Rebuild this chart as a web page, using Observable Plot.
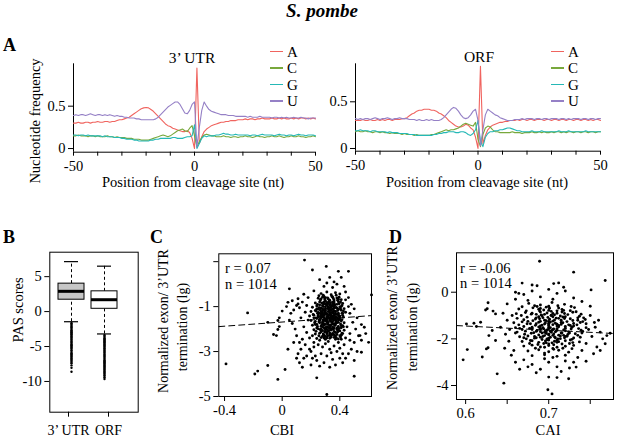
<!DOCTYPE html>
<html><head><meta charset="utf-8">
<script src="https://cdn.jsdelivr.net/npm/d3@7"></script>
<script src="https://cdn.jsdelivr.net/npm/@observablehq/plot@0.6"></script>
<style>
@font-face{font-family:"FigSerif";src:local("Liberation Serif"),local("LiberationSerif"),local("LiberationSerif-Regular"),local("DejaVu Serif"),local("DejaVuSerif");font-weight:normal;font-style:normal}
@font-face{font-family:"FigSerif";src:local("Liberation Serif Bold"),local("LiberationSerif-Bold"),local("DejaVu Serif Bold"),local("DejaVuSerif-Bold");font-weight:bold;font-style:normal}
@font-face{font-family:"FigSerif";src:local("Liberation Serif Bold Italic"),local("LiberationSerif-BoldItalic"),local("DejaVu Serif Bold Italic"),local("DejaVuSerif-BoldItalic");font-weight:bold;font-style:italic}
body{margin:0;background:#fff;}
#fig{position:relative;width:617px;height:437px;font-family:"Liberation Serif","FigSerif","Times New Roman",Times,"DejaVu Serif",serif;color:#000;overflow:hidden;background:#fff}
#fig svg{position:absolute}
.t{position:absolute;white-space:nowrap;line-height:1}
</style></head><body><div id="fig"></div>
<script>
// ---------- DATA ----------
const positions = d3.range(-50, 51);
const nucleotides = ["A", "C", "G", "U"];
const nucColors = ["#f0645f", "#78a83c", "#25b8b6", "#9580c6"];

const utrA = [0.30,0.30,0.31,0.30,0.30,0.31,0.31,0.30,0.31,0.31,
 0.32,0.31,0.31,0.32,0.32,0.31,0.32,0.32,0.33,0.34,
 0.34,0.35,0.36,0.37,0.39,0.41,0.43,0.45,0.47,0.48,
 0.485,0.48,0.46,0.44,0.41,0.38,0.35,0.32,0.29,0.27,
 0.26,0.24,0.23,0.22,0.21,0.20,0.20,0.21,0.19,0.12,
 0.00,
 0.95,0.06,0.14,0.20,0.23,0.25,0.27,0.28,0.29,0.30,
 0.31,0.31,0.32,0.32,0.33,0.33,0.33,0.34,0.34,0.34,
 0.35,0.34,0.35,0.35,0.34,0.35,0.35,0.36,0.35,0.35,
 0.35,0.36,0.35,0.35,0.36,0.35,0.36,0.35,0.35,0.36,
 0.35,0.36,0.35,0.36,0.36,0.35,0.36,0.35,0.36,0.35];
const utrC = [0.15,0.15,0.16,0.15,0.15,0.15,0.14,0.15,0.15,0.14,
 0.15,0.14,0.14,0.14,0.15,0.14,0.14,0.13,0.14,0.13,
 0.13,0.13,0.12,0.12,0.12,0.11,0.11,0.11,0.10,0.10,
 0.10,0.10,0.11,0.12,0.13,0.14,0.15,0.16,0.15,0.14,
 0.15,0.17,0.19,0.21,0.22,0.23,0.21,0.20,0.24,0.27,
 0.15,
 0.02,0.08,0.13,0.16,0.17,0.16,0.15,0.15,0.14,0.14,
 0.14,0.15,0.14,0.14,0.13,0.14,0.14,0.13,0.14,0.14,
 0.15,0.14,0.14,0.13,0.14,0.15,0.14,0.14,0.13,0.14,
 0.14,0.15,0.14,0.14,0.15,0.14,0.13,0.14,0.14,0.15,
 0.14,0.14,0.15,0.14,0.14,0.13,0.14,0.14,0.15,0.14];
const utrG = [0.16,0.16,0.15,0.16,0.16,0.15,0.16,0.15,0.15,0.15,
 0.15,0.15,0.14,0.15,0.14,0.14,0.14,0.13,0.13,0.13,
 0.12,0.12,0.11,0.11,0.11,0.10,0.10,0.09,0.09,0.09,
 0.09,0.09,0.10,0.10,0.11,0.11,0.12,0.12,0.12,0.12,
 0.12,0.13,0.13,0.12,0.12,0.12,0.13,0.14,0.14,0.15,
 0.28,
 0.00,0.06,0.12,0.15,0.14,0.15,0.15,0.15,0.16,0.16,
 0.17,0.18,0.17,0.17,0.16,0.16,0.17,0.16,0.16,0.16,
 0.16,0.16,0.15,0.16,0.16,0.15,0.16,0.17,0.16,0.16,
 0.16,0.16,0.15,0.16,0.17,0.16,0.16,0.15,0.16,0.16,
 0.15,0.16,0.17,0.16,0.16,0.15,0.16,0.16,0.16,0.15];
const utrU = [0.39,0.40,0.39,0.40,0.40,0.39,0.40,0.41,0.40,0.39,
 0.40,0.40,0.39,0.40,0.39,0.40,0.39,0.38,0.39,0.38,
 0.38,0.37,0.37,0.36,0.36,0.36,0.35,0.35,0.34,0.34,
 0.34,0.34,0.34,0.34,0.35,0.37,0.40,0.43,0.46,0.49,
 0.51,0.53,0.55,0.55,0.52,0.47,0.42,0.41,0.45,0.52,
 0.55,
 0.02,0.25,0.45,0.55,0.50,0.46,0.44,0.43,0.42,0.41,
 0.40,0.40,0.40,0.39,0.39,0.39,0.38,0.38,0.38,0.38,
 0.38,0.37,0.38,0.37,0.37,0.37,0.38,0.37,0.37,0.37,
 0.37,0.36,0.37,0.37,0.36,0.37,0.36,0.37,0.36,0.36,
 0.37,0.36,0.36,0.37,0.36,0.36,0.35,0.36,0.36,0.36];

const orfA = [0.30,0.30,0.30,0.31,0.30,0.30,0.31,0.30,0.30,0.31,
 0.30,0.31,0.30,0.31,0.31,0.30,0.31,0.31,0.31,0.32,
 0.32,0.33,0.35,0.37,0.38,0.40,0.41,0.41,0.42,0.42,
 0.42,0.41,0.41,0.40,0.38,0.37,0.35,0.33,0.30,0.28,
 0.26,0.24,0.23,0.23,0.24,0.26,0.25,0.22,0.20,0.12,
 0.00,
 0.88,0.05,0.14,0.20,0.23,0.25,0.26,0.27,0.28,0.28,
 0.29,0.29,0.30,0.30,0.30,0.31,0.30,0.31,0.31,0.30,
 0.31,0.31,0.30,0.31,0.31,0.31,0.30,0.31,0.31,0.30,
 0.31,0.31,0.30,0.31,0.31,0.30,0.31,0.31,0.30,0.31,
 0.31,0.30,0.31,0.31,0.30,0.31,0.30,0.31,0.31,0.30];
const orfC = [0.18,0.19,0.18,0.18,0.19,0.18,0.18,0.17,0.18,0.18,
 0.17,0.18,0.17,0.17,0.16,0.17,0.16,0.16,0.16,0.15,
 0.16,0.15,0.15,0.15,0.14,0.15,0.14,0.14,0.14,0.14,
 0.14,0.15,0.15,0.16,0.17,0.18,0.19,0.20,0.19,0.20,
 0.20,0.21,0.22,0.24,0.26,0.27,0.26,0.25,0.24,0.28,
 0.10,
 0.02,0.15,0.22,0.24,0.23,0.20,0.18,0.18,0.17,0.17,
 0.17,0.17,0.17,0.18,0.17,0.17,0.17,0.16,0.17,0.17,
 0.17,0.18,0.17,0.17,0.18,0.17,0.18,0.17,0.17,0.18,
 0.17,0.18,0.18,0.17,0.18,0.17,0.18,0.18,0.17,0.18,
 0.18,0.17,0.18,0.18,0.17,0.18,0.18,0.17,0.18,0.18];
const orfG = [0.19,0.19,0.20,0.19,0.19,0.19,0.18,0.19,0.19,0.18,
 0.18,0.18,0.18,0.17,0.18,0.17,0.17,0.17,0.16,0.16,
 0.16,0.16,0.15,0.15,0.15,0.14,0.14,0.14,0.14,0.14,
 0.14,0.14,0.15,0.15,0.16,0.16,0.17,0.17,0.18,0.18,
 0.18,0.17,0.17,0.18,0.18,0.17,0.15,0.14,0.16,0.20,
 0.30,
 0.08,0.02,0.12,0.16,0.18,0.18,0.19,0.19,0.20,0.20,
 0.21,0.22,0.22,0.21,0.20,0.19,0.19,0.18,0.18,0.18,
 0.18,0.19,0.18,0.18,0.18,0.19,0.18,0.18,0.18,0.18,
 0.18,0.18,0.19,0.18,0.18,0.18,0.19,0.18,0.18,0.18,
 0.18,0.18,0.18,0.19,0.18,0.18,0.18,0.18,0.18,0.18];
const orfU = [0.32,0.31,0.32,0.31,0.32,0.32,0.31,0.32,0.33,0.32,
 0.31,0.32,0.32,0.33,0.32,0.31,0.32,0.32,0.33,0.32,
 0.32,0.32,0.31,0.31,0.31,0.30,0.31,0.30,0.30,0.31,
 0.30,0.31,0.30,0.30,0.30,0.31,0.33,0.36,0.39,0.42,
 0.44,0.43,0.40,0.36,0.33,0.32,0.33,0.36,0.40,0.42,
 0.30,
 0.03,0.20,0.36,0.42,0.40,0.38,0.36,0.35,0.33,0.32,
 0.31,0.30,0.30,0.30,0.31,0.31,0.31,0.32,0.31,0.32,
 0.32,0.32,0.31,0.32,0.32,0.31,0.32,0.32,0.31,0.32,
 0.32,0.32,0.31,0.32,0.32,0.31,0.32,0.31,0.32,0.32,
 0.32,0.31,0.32,0.32,0.31,0.32,0.32,0.31,0.32,0.32];

const lineXTicks = [-50,-40,-30,-20,-10,0,10,20,30,40,50];
const lineXLabels = [-50, 0, 50];
const freqTicks = [0, 0.5];

// Panel B: PAS score boxplot summaries
const boxCats = ["3\u2019 UTR", "ORF"];
const boxQ1 = [1.7, 0.4];
const boxMedian = [2.9, 1.7];
const boxQ3 = [4.0, 2.9];
const whiskerLow = [-1.45, -3.2];
const whiskerHigh = [7.15, 6.5];
const boxFills = ["#c6c6c6", "#ffffff"];
const utrOutliers = [-1.62,-1.75,-1.9,-2.05,-2.2,-2.33,-2.5,-2.66,-2.8,-2.97,-3.1,-3.26,-3.42,-3.58,-3.7,-3.88,-4.02,-4.2,-4.35,-4.5,-4.68,-4.83,-5.0,-5.15,-5.3,-5.48,-5.62,-5.8,-5.95,-6.1,-6.28,-6.43,-6.6,-6.76,-6.9,-7.05,-7.22,-7.4,-7.7,-8.05,-8.6];
const orfOutliers = [-3.35,-3.5,-3.65,-3.8,-3.96,-4.1,-4.26,-4.4,-4.56,-4.7,-4.86,-5.0,-5.16,-5.3,-5.46,-5.6,-5.76,-5.9,-6.06,-6.2,-6.36,-6.5,-6.66,-6.8,-6.96,-7.1,-7.26,-7.4,-7.56,-7.7,-7.86,-8.0,-8.16,-8.3,-8.46,-8.6,-8.76,-8.9,-9.06,-9.2,-9.4,-9.65];
const pasTicks = [5, 0, -5, -10];

// Panel C: CBI vs normalized exon/3'UTR termination (lg)
const cPoints = [
 [0.155,1.07],[0.306,0.79],[0.39,0.57],[0.46,0.57],[0.21,0.63],[0.05,-0.21],[0.62,-0.48],[0.26,0.2],[0.33,0.3],[0.36,0.1],[0.41,0.3],[0.38,0.0],[0.29,-0.1],[0.31,0.05],[0.35,-0.15],[0.43,-0.1],[0.44,-0.35],[0.22,-0.3],[0.15,-0.45],[0.18,-0.6],[0.11,-0.65],
 [-0.24,-1.28],[-0.39,-3.55],[-0.19,-4.0],[-0.17,-3.87],[-0.10,-3.62],[-0.03,-4.24],[0.02,-3.8],[0.14,-3.7],[0.24,-4.17],[0.31,-4.91],[0.50,-4.1],[-0.06,-2.24],[-0.03,-2.02],[-0.10,-1.70],[0.03,-1.0],[0.06,-1.3],[0.08,-1.15],[0.1,-0.95],[0.12,-1.05],[0.05,-1.6],[0.07,-1.75],[0.09,-2.0],[0.1,-2.3],[0.12,-2.6],[0.13,-2.9],[0.11,-3.1],[0.15,-3.3],[0.14,-2.45],[0.16,-2.7],[0.17,-2.15],[0.15,-1.9],[0.13,-1.5],[0.16,-1.25],[0.17,-0.95],[0.14,-0.8],[0.18,-1.6],[0.19,-2.4],[0.12,-3.5],[0.17,-3.2],[0.2,-3.6],[0.19,-2.9],[0.21,-3.3],[0.22,-2.8],[0.08,-2.6],[0.04,-2.9],[0.1,-3.3],[0.0,-1.2],[-0.02,-1.5],[0.04,-0.81],[0.11,-0.88],[0.07,-0.74],[-0.03,-1.62],[-0.02,-1.89],[-0.04,-2.29],
 [0.46,-0.6],[0.48,-0.9],[0.47,-1.3],[0.5,-1.1],[0.52,-1.5],[0.49,-1.7],[0.51,-2.0],[0.47,-2.2],[0.53,-2.3],[0.55,-2.5],[0.5,-2.6],[0.48,-2.9],[0.46,-3.1],[0.52,-3.0],[0.55,-1.8],[0.58,-2.2],[0.44,-3.3],[0.42,-3.5],[0.47,-2.5],[0.45,-1.9],[0.46,-1.0],[0.44,-0.7],[0.54,-2.29],[0.57,-1.92],[0.6,-2.59],[0.55,-3.03],[0.50,-3.4],
 [0.22,-2.6],[0.25,-2.7],[0.28,-2.8],[0.3,-2.65],[0.33,-2.9],[0.36,-2.75],[0.38,-3.0],[0.4,-2.85],[0.42,-3.1],[0.27,-3.1],[0.31,-3.2],[0.35,-3.35],[0.24,-3.4],[0.29,-3.5],[0.37,-3.6],[0.33,-3.7],[0.26,-3.65],[0.4,-3.3],[0.43,-2.7],[0.2,-3.0],[0.23,-3.2],[0.34,-3.05],[0.39,-2.6],[0.41,-2.45],[0.26,-2.5],[0.32,-2.55],[0.37,-2.45],[0.29,-2.4],[0.21,-2.3],[0.44,-2.4],
 [0.27,-0.42],[0.31,-0.35],[0.34,-0.47],[0.37,-0.38],[0.40,-0.44],[0.29,-0.55],
 [0.25,-0.63],[0.28,-0.58],[0.32,-0.66],[0.35,-0.57],[0.38,-0.62],[0.41,-0.69],[0.30,-0.74],[0.36,-0.71],
 [0.23,-0.84],[0.26,-0.79],[0.29,-0.88],[0.31,-0.81],[0.33,-0.92],[0.36,-0.85],[0.39,-0.78],[0.42,-0.86],[0.28,-0.95],[0.34,-0.99],
 [0.21,-1.03],[0.24,-0.97],[0.27,-1.06],[0.30,-1.01],[0.32,-1.08],[0.34,-1.04],[0.36,-0.98],[0.38,-1.07],[0.40,-1.02],[0.43,-1.09],[0.29,-1.14],[0.35,-1.12],
 [0.20,-1.22],[0.23,-1.17],[0.25,-1.26],[0.28,-1.19],[0.30,-1.24],[0.31,-1.31],[0.33,-1.18],[0.35,-1.27],[0.37,-1.21],[0.39,-1.29],[0.41,-1.16],[0.44,-1.25],[0.27,-1.33],[0.34,-1.36],
 [0.19,-1.42],[0.22,-1.38],[0.25,-1.46],[0.27,-1.41],[0.29,-1.49],[0.31,-1.44],[0.32,-1.37],[0.34,-1.47],[0.36,-1.40],[0.38,-1.48],[0.40,-1.43],[0.42,-1.39],[0.30,-1.55],[0.35,-1.53],[0.26,-1.57],
 [0.20,-1.62],[0.23,-1.66],[0.26,-1.61],[0.28,-1.68],[0.30,-1.63],[0.32,-1.71],[0.33,-1.59],[0.35,-1.67],[0.37,-1.62],[0.39,-1.70],[0.41,-1.64],[0.43,-1.72],[0.29,-1.76],[0.36,-1.78],
 [0.21,-1.83],[0.24,-1.79],[0.27,-1.87],[0.29,-1.82],[0.31,-1.89],[0.33,-1.84],[0.35,-1.91],[0.37,-1.81],[0.39,-1.88],[0.42,-1.85],[0.30,-1.96],[0.34,-1.98],
 [0.22,-2.03],[0.25,-1.99],[0.28,-2.06],[0.30,-2.01],[0.32,-2.09],[0.34,-2.04],[0.36,-2.11],[0.38,-2.02],[0.40,-2.08],[0.43,-2.05],[0.31,-2.15],
 [0.23,-2.22],[0.26,-2.18],[0.29,-2.26],[0.31,-2.21],[0.33,-2.29],[0.35,-2.19],[0.38,-2.24],[0.41,-2.27],[0.30,-2.33],
 [0.24,-2.42],[0.27,-2.38],[0.30,-2.46],[0.33,-2.41],[0.36,-2.37],[0.39,-2.44],
 [0.28,-1.10],[0.30,-1.16],[0.32,-1.22],[0.34,-1.15],[0.36,-1.33],[0.33,-1.28],[0.31,-1.52],[0.29,-1.35],[0.27,-1.50],[0.35,-1.43],[0.37,-1.56],[0.33,-1.62],[0.31,-1.69],[0.28,-1.73],[0.34,-1.80],[0.36,-1.50],[0.32,-1.45],[0.30,-1.33],[0.38,-1.35],[0.26,-1.30],[0.33,-1.05],[0.31,-0.94],[0.35,-0.88],[0.29,-1.62],[0.37,-1.74],[0.32,-1.93],[0.28,-1.90],[0.34,-1.26],[0.36,-1.19],[0.30,-1.79],[0.38,-1.95],[0.35,-2.0],[0.27,-2.12],[0.33,-2.17],[0.37,-2.31],[0.39,-1.12],[0.40,-1.58],[0.25,-1.12],[0.24,-1.53],[0.41,-1.94],
 [0.255,-0.52],[0.285,-0.49],[0.315,-0.61],[0.345,-0.55],[0.375,-0.49],[0.395,-0.58],[0.265,-0.71],[0.295,-0.66],[0.325,-0.77],[0.355,-0.64],[0.385,-0.72],[0.405,-0.8],[0.245,-0.9],[0.275,-0.84],[0.305,-0.9],[0.335,-0.83],[0.365,-0.93],[0.395,-0.87],[0.415,-0.95],[0.255,-1.05],[0.285,-1.0],[0.315,-1.08],[0.345,-0.97],[0.375,-1.04],[0.405,-1.1],[0.425,-1.2],[0.235,-1.2],[0.265,-1.15],[0.295,-1.25],[0.325,-1.13],[0.355,-1.22],[0.385,-1.17],[0.415,-1.3],[0.215,-1.35],[0.245,-1.3],[0.275,-1.38],[0.305,-1.32],[0.335,-1.41],[0.365,-1.35],[0.395,-1.42],[0.425,-1.47],[0.235,-1.5],[0.265,-1.45],[0.295,-1.56],[0.325,-1.5],[0.355,-1.59],[0.385,-1.53],[0.415,-1.58],[0.225,-1.72],[0.255,-1.67],[0.285,-1.61],[0.315,-1.75],[0.345,-1.69],[0.375,-1.66],[0.405,-1.77],[0.245,-1.88],[0.275,-1.81],[0.305,-1.93],[0.335,-1.86],[0.365,-1.84],[0.395,-1.97],[0.425,-1.9],[0.235,-2.1],[0.265,-2.03],[0.295,-2.12],[0.325,-2.06],[0.355,-2.0],[0.385,-2.13],[0.415,-2.18],[0.255,-2.3],[0.285,-2.22],[0.315,-2.31],[0.345,-2.25],[0.375,-2.38],[0.405,-2.35],
 [0.27,-0.66],[0.30,-0.6],[0.33,-0.72],[0.36,-0.78],[0.39,-0.67],[0.26,-0.93],[0.29,-0.79],[0.32,-0.86],[0.35,-0.93],[0.38,-0.9],[0.41,-1.0],[0.24,-1.1],[0.27,-1.23],[0.30,-1.09],[0.33,-1.35],[0.36,-1.07],[0.39,-1.36],[0.42,-1.3],[0.22,-1.5],[0.25,-1.38],[0.28,-1.45],[0.31,-1.6],[0.34,-1.55],[0.37,-1.45],[0.40,-1.5],[0.23,-1.8],[0.26,-1.72],[0.29,-1.94],[0.32,-1.8],[0.35,-1.76],[0.38,-1.72],[0.41,-1.85],[0.24,-1.95],[0.27,-1.98],[0.30,-2.1],[0.33,-1.96],[0.36,-2.25],[0.39,-2.05],[0.42,-2.2],[0.28,-2.32],[0.31,-2.4],[0.34,-2.35],[0.37,-2.15],[0.40,-2.3],[0.35,-0.8],[0.32,-1.0],[0.29,-1.4],[0.34,-1.66],[0.31,-2.02],[0.37,-1.28],[0.26,-1.62],[0.39,-1.6],[0.33,-2.24],[0.28,-1.28],[0.36,-1.96],[0.30,-0.88]
];
const cFitX = [-0.44, 0.62];
const cFitY = [-1.89, -1.40];
const cbiTicks = [-0.4, 0, 0.4];
const cTermTicks = [1, -1, -3, -5];
const cTermLabels = [-1, -3, -5];

// Panel D: CAI vs normalized exon/3'UTR termination (lg)
const dPoints = [
 [0.689,1.33],[0.730,0.86],[0.768,0.50],[0.668,0.39],[0.680,0.31],[0.686,0.28],[0.706,0.37],[0.712,0.40],[0.718,0.21],[0.751,0.10],[0.660,0.0],[0.664,-0.05],[0.627,-0.45],[0.633,-0.81],[0.636,-0.93],[0.624,-0.76],[0.601,-1.36],[0.613,-1.47],[0.610,-1.33],[0.602,-2.46],[0.597,-2.9],[0.620,-2.78],[0.627,-2.38],[0.636,-2.07],[0.638,-3.5],[0.646,-3.9],[0.700,-3.64],[0.710,-3.66],[0.699,-4.18],[0.704,-4.36],[0.724,-3.71],[0.733,-3.21],[0.745,-2.96],[0.754,-2.64],[0.762,-2.5],[0.768,-2.21],[0.774,-1.76],[0.770,-1.86],[0.762,-1.71],[0.756,-1.5],[0.626,-0.71],[0.632,-1.64],[0.628,-1.86],[0.625,-2.43],[0.618,-1.29],
 [0.65,-0.5],[0.66,-0.3],[0.67,-0.1],[0.69,-0.2],[0.71,-0.05],[0.73,-0.25],[0.74,-0.4],[0.75,-0.6],[0.72,0.05],[0.70,0.12],[0.68,0.05],[0.675,-0.35],[0.705,-0.3],
 [0.645,-0.9],[0.65,-1.2],[0.642,-1.5],[0.648,-1.8],[0.652,-2.1],[0.647,-2.4],[0.655,-2.7],[0.66,-3.0],[0.665,-3.3],[0.658,-2.5],[0.653,-1.6],[0.656,-1.0],
 [0.75,-1.0],[0.755,-1.3],[0.748,-1.6],[0.752,-1.9],[0.745,-2.2],[0.74,-2.5],[0.735,-2.8],[0.73,-3.0],[0.76,-1.2],[0.765,-2.0],[0.742,-1.1],[0.758,-2.35],
 [0.67,-2.9],[0.68,-3.1],[0.69,-3.3],[0.70,-3.0],[0.71,-3.2],[0.72,-2.95],[0.715,-3.4],[0.685,-3.45],[0.675,-3.2],[0.725,-3.25],[0.695,-2.85],[0.705,-2.8],
 [0.676,-0.48],[0.690,-0.55],[0.704,-0.44],[0.719,-0.52],[0.686,-0.61],[0.711,-0.58],
 [0.664,-0.72],[0.681,-0.67],[0.694,-0.76],[0.701,-0.69],[0.716,-0.74],[0.731,-0.66],[0.689,-0.81],[0.726,-0.79],
 [0.661,-0.92],[0.672,-0.87],[0.685,-0.95],[0.698,-0.89],[0.707,-0.97],[0.719,-0.91],[0.729,-0.86],[0.739,-0.94],[0.692,-1.01],[0.703,-0.99],
 [0.662,-1.12],[0.674,-1.07],[0.684,-1.15],[0.693,-1.09],[0.701,-1.16],[0.709,-1.11],[0.717,-1.06],[0.726,-1.14],[0.735,-1.10],[0.744,-1.17],[0.697,-1.22],[0.705,-1.24],
 [0.658,-1.31],[0.668,-1.27],[0.678,-1.35],[0.688,-1.29],[0.695,-1.36],[0.702,-1.28],[0.708,-1.33],[0.715,-1.38],[0.722,-1.26],[0.730,-1.34],[0.738,-1.30],[0.692,-1.41],[0.700,-1.44],[0.712,-1.43],
 [0.660,-1.52],[0.670,-1.47],[0.680,-1.55],[0.688,-1.49],[0.694,-1.57],[0.700,-1.51],[0.706,-1.58],[0.712,-1.48],[0.720,-1.54],[0.728,-1.50],[0.736,-1.56],[0.745,-1.52],[0.698,-1.62],[0.704,-1.64],[0.690,-1.60],
 [0.662,-1.71],[0.672,-1.67],[0.682,-1.74],[0.690,-1.69],[0.697,-1.77],[0.703,-1.72],[0.709,-1.66],[0.716,-1.75],[0.724,-1.70],[0.732,-1.78],[0.741,-1.68],[0.700,-1.83],[0.695,-1.86],[0.712,-1.84],
 [0.665,-1.91],[0.675,-1.88],[0.685,-1.95],[0.693,-1.90],[0.700,-1.97],[0.707,-1.92],[0.714,-1.99],[0.722,-1.89],[0.730,-1.96],[0.738,-1.93],[0.698,-2.04],[0.710,-2.06],
 [0.668,-2.11],[0.678,-2.07],[0.688,-2.15],[0.696,-2.09],[0.704,-2.17],[0.712,-2.12],[0.720,-2.08],[0.729,-2.16],[0.737,-2.13],[0.700,-2.22],
 [0.670,-2.31],[0.680,-2.27],[0.690,-2.35],[0.700,-2.29],[0.710,-2.36],[0.720,-2.32],[0.730,-2.28],[0.705,-2.41],
 [0.675,-2.52],[0.688,-2.47],[0.700,-2.55],[0.712,-2.49],[0.724,-2.57],[0.695,-2.61],
 [0.680,-2.72],[0.695,-2.68],[0.710,-2.75],[0.720,-2.70],
 [0.695,-1.2],[0.70,-1.4],[0.705,-1.6],[0.71,-1.45],[0.69,-1.55],[0.70,-1.8],[0.715,-1.3],[0.685,-1.35],[0.72,-1.65],[0.698,-2.0],[0.708,-1.95],[0.692,-1.75],[0.703,-1.0],[0.712,-1.12],[0.688,-1.05],[0.718,-1.85],[0.694,-2.2],[0.706,-2.25],[0.68,-1.6],[0.724,-1.4],[0.7,-1.25],[0.69,-0.85],[0.71,-0.8],[0.72,-1.05],[0.683,-1.9],[0.726,-2.05],[0.7,-0.6],[0.696,-1.65],[0.708,-1.7],[0.702,-1.52],
 [0.668,-0.62],[0.683,-0.58],[0.697,-0.64],[0.712,-0.68],[0.727,-0.61],[0.673,-0.8],[0.688,-0.73],[0.703,-0.82],[0.718,-0.78],[0.733,-0.84],[0.667,-1.0],[0.679,-0.94],[0.691,-0.98],[0.705,-0.91],[0.714,-1.02],[0.723,-0.96],[0.737,-1.03],[0.670,-1.18],[0.681,-1.22],[0.689,-1.14],[0.699,-1.08],[0.707,-1.19],[0.719,-1.13],[0.729,-1.21],[0.741,-1.26],[0.664,-1.4],[0.674,-1.35],[0.684,-1.42],[0.696,-1.32],[0.705,-1.39],[0.717,-1.31],[0.726,-1.43],[0.734,-1.4],[0.668,-1.6],[0.677,-1.55],[0.686,-1.64],[0.693,-1.52],[0.702,-1.67],[0.710,-1.56],[0.718,-1.62],[0.727,-1.58],[0.739,-1.63],[0.671,-1.8],[0.679,-1.76],[0.688,-1.83],[0.697,-1.71],[0.706,-1.79],[0.714,-1.88],[0.723,-1.81],[0.735,-1.85],[0.673,-2.0],[0.683,-1.97],[0.692,-2.03],[0.702,-1.93],[0.711,-2.0],[0.719,-1.95],[0.728,-2.02],[0.677,-2.2],[0.687,-2.24],[0.697,-2.17],[0.707,-2.1],[0.716,-2.22],[0.725,-2.2],[0.684,-2.4],[0.695,-2.36],[0.706,-2.45],[0.717,-2.4],[0.728,-2.42],
 [0.69,-0.7],[0.70,-0.78],[0.71,-0.9],[0.695,-0.95],[0.685,-1.1],[0.705,-1.05],[0.715,-1.2],[0.69,-1.25],[0.70,-1.33],[0.71,-1.37],[0.72,-1.47],[0.69,-1.45],[0.68,-1.5],[0.70,-1.57],[0.71,-1.62],[0.695,-1.72],[0.705,-1.85],[0.715,-1.75],[0.685,-1.68],[0.72,-1.9],[0.70,-2.05],[0.69,-1.93],[0.71,-2.15],[0.68,-2.08],[0.725,-1.75],[0.73,-1.45],[0.735,-1.2],[0.675,-1.25],[0.665,-1.55],[0.68,-0.9],[0.716,-0.85],[0.74,-1.75],[0.67,-1.95],[0.745,-1.35],[0.66,-1.75]
];
const dFitX = [0.589, 0.778];
const dFitY = [-1.43, -1.77];
const caiTicks = [0.6, 0.65, 0.7, 0.75];
const caiLabels = [0.6, 0.7];
const dTermTicks = [0, -2, -4];

// ---------- LAYOUT HELPERS ----------
const fig = document.getElementById("fig");
const FONT = '"Liberation Serif","FigSerif","Times New Roman",Times,"DejaVu Serif",serif';
function txt(s, x, y, o = {}) {
  const d = document.createElement("div");
  d.className = "t";
  d.textContent = s;
  d.style.left = x + "px";
  d.style.top = y + "px";
  d.style.fontSize = (o.size || 14.5) + "px";
  if (o.bold) d.style.fontWeight = "bold";
  if (o.italic) d.style.fontStyle = "italic";
  d.style.transform = o.rot ? "translate(-50%,-50%) rotate(-90deg)" :
    o.align === "left" ? "translate(0,-50%)" : "translate(-50%,-50%)";
  fig.appendChild(d);
}
function put(svg, left, top) {
  svg.style.left = left + "px";
  svg.style.top = top + "px";
  fig.appendChild(svg);
}
const baseStyle = {fontFamily: FONT, fontSize: "14.5px", background: "transparent", overflow: "visible", color: "#000"};

function lineRows(series) {
  const rows = [];
  nucleotides.forEach((n, k) => series[k].forEach((v, i) => rows.push({pos: positions[i], nuc: n, freq: v})));
  return rows;
}
function legend(xLine, yTop) {
  nucleotides.forEach((n, i) => {
    const y = yTop + i * 16.4;
    const l = document.createElement("div");
    l.style.cssText = `position:absolute;left:${xLine}px;top:${y - 0.75}px;width:13px;height:1.5px;background:${nucColors[i]}`;
    fig.appendChild(l);
    txt(n, xLine + 17, y, {align: "left", size: 15});
  });
}

// ---------- PANEL A ----------
function linePanel(series, yDomain, w, h, ml, mr, mt, mb) {
  const x0 = lineXTicks[0], x1 = lineXTicks[lineXTicks.length - 1];
  return Plot.plot({
    width: w, height: h, marginLeft: ml, marginRight: mr, marginTop: mt, marginBottom: mb,
    x: {domain: [x0, x1]},
    y: {domain: yDomain},
    color: {domain: nucleotides, range: nucColors},
    style: baseStyle,
    marks: [
      Plot.ruleX([x0], {y1: yDomain[0], y2: yDomain[1]}),
      Plot.ruleY([yDomain[0]], {x1: x0, x2: x1}),
      Plot.axisX({ticks: lineXTicks, tickFormat: d => lineXLabels.includes(d) ? String(d) : "", tickSize: 4, tickPadding: 5, label: null}),
      Plot.axisY({ticks: freqTicks, tickFormat: d => String(d), tickSize: 5, tickPadding: 3, label: null}),
      Plot.line(lineRows(series), {x: "pos", y: "freq", stroke: "nuc", z: "nuc", strokeWidth: 1.1})
    ]
  });
}
put(linePanel([utrA, utrC, utrG, utrU], [-0.043, 1.0], 330, 170, 73, 15, 33.3, 48.3), 0, 30);
put(linePanel([orfA, orfC, orfG, orfU], [-0.029, 0.907], 297, 170, 35, 17, 33.3, 49.3), 320, 30);

txt("S. pombe", 322, 10, {bold: true, italic: true, size: 19});
txt("A", 3, 45, {bold: true, size: 18, align: "left"});
txt("3\u2019 UTR", 192, 58, {size: 15.5});
txt("ORF", 479, 57, {size: 15.5});
txt("Nucleotide frequency", 35, 121, {rot: true, size: 14.5});
txt("Position from cleavage site (nt)", 193, 182, {size: 14.5});
txt("Position from cleavage site (nt)", 477, 182, {size: 14.5});
legend(270, 51.7);
legend(551, 51.7);

// ---------- PANEL B ----------
const boxRows = boxCats.map((c, i) => ({cat: c, q1: boxQ1[i], med: boxMedian[i], q3: boxQ3[i], lo: whiskerLow[i], hi: whiskerHigh[i], fill: boxFills[i]}));
const outRows = [...utrOutliers.map(v => ({cat: boxCats[0], v})), ...orfOutliers.map(v => ({cat: boxCats[1], v}))];
put(Plot.plot({
  width: 150, height: 212, marginLeft: 49.3, marginRight: 12.3, marginTop: 26.7, marginBottom: 25.3,
  x: {type: "band", domain: boxCats, paddingInner: 0.206, paddingOuter: 0.403, align: 0.3},
  y: {domain: [-14.4, 8.5]},
  color: {type: "identity"},
  style: baseStyle,
  marks: [
    Plot.frame({stroke: "#000"}),
    Plot.ruleX(boxRows, {x: "cat", y1: "q3", y2: "hi", strokeDasharray: "3,2.5", strokeWidth: 1}),
    Plot.ruleX(boxRows, {x: "cat", y1: "lo", y2: "q1", strokeDasharray: "3,2.5", strokeWidth: 1}),
    Plot.tickY(boxRows, {x: "cat", y: "hi", inset: 6, strokeWidth: 1.2}),
    Plot.tickY(boxRows, {x: "cat", y: "lo", inset: 6, strokeWidth: 1.2}),
    Plot.dot(outRows, {x: "cat", y: "v", r: 1.2, fill: "#000", stroke: null}),
    Plot.barY(boxRows, {x: "cat", y1: "q1", y2: "q3", fill: "fill", stroke: "#000", strokeWidth: 1}),
    Plot.tickY(boxRows, {x: "cat", y: "med", strokeWidth: 3}),
    Plot.axisX({ticks: [boxCats[0]], tickSize: 5, tickPadding: 8, fontSize: 14, dx: -3, label: null}),
    Plot.axisX({ticks: [boxCats[1]], tickSize: 5, tickPadding: 8, fontSize: 14, dx: 4, label: null}),
    Plot.axisY({ticks: pasTicks, tickFormat: d => String(d), tickSize: 5, tickPadding: 3, label: null})
  ]
}), 0, 225);
txt("B", 3, 237, {bold: true, size: 18, align: "left"});
txt("PAS scores", 18, 310, {rot: true, size: 14.5});

// ---------- PANELS C, D ----------
function scatterPanel(points, fitX, fitY, xDomain, yDomain, xTicks, xLabels, yTicks, yLabels, w, h, ml, mr, mt, mb) {
  const fit = fitX.map((x, i) => ({x, y: fitY[i]}));
  return Plot.plot({
    width: w, height: h, marginLeft: ml, marginRight: mr, marginTop: mt, marginBottom: mb,
    x: {domain: xDomain}, y: {domain: yDomain},
    style: baseStyle,
    marks: [
      Plot.frame({stroke: "#000"}),
      Plot.dot(points, {x: d => d[0], y: d => d[1], r: 1.45, fill: "#000", stroke: null}),
      Plot.line(fit, {x: "x", y: "y", stroke: "#000", strokeWidth: 1, strokeDasharray: "6,4"}),
      Plot.axisX({ticks: xTicks, tickFormat: d => xLabels.includes(d) ? String(d) : "", tickSize: 5, tickPadding: 3, label: null}),
      Plot.axisY({ticks: yTicks, tickFormat: d => yLabels.includes(d) ? String(d) : "", tickSize: 5, tickPadding: 3, label: null})
    ]
  });
}
put(scatterPanel(cPoints, cFitX, cFitY, [-0.44, 0.62], [-5.0, 1.35], cbiTicks, cbiTicks, cTermTicks, cTermLabels, 230, 212, 68.3, 9, 28.3, 41), 150, 225);
txt("C", 150, 237, {bold: true, size: 18, align: "left"});
txt("r = 0.07", 225, 268, {align: "left", size: 14.5});
txt("n = 1014", 225, 284, {align: "left", size: 14.5});
txt("Normalized exon/ 3\u2019UTR", 164, 321, {rot: true, size: 14});
txt("termination (lg)", 183, 327, {rot: true, size: 14});
txt("CBI", 282, 430, {size: 14.5});

put(scatterPanel(dPoints, dFitX, dFitY, [0.589, 0.778], [-4.6, 1.69], caiTicks, caiLabels, dTermTicks, dTermTicks, 237, 212, 76, 4, 27.3, 38), 380, 225);
txt("D", 389, 237, {bold: true, size: 18, align: "left"});
txt("r = -0.06", 460, 268, {align: "left", size: 14.5});
txt("n = 1014", 460, 283, {align: "left", size: 14.5});
txt("Normalized exon/ 3\u2019UTR", 393, 318, {rot: true, size: 14});
txt("termination (lg)", 413, 327, {rot: true, size: 14});
txt("CAI", 548, 430, {size: 14.5});
</script></body></html>
